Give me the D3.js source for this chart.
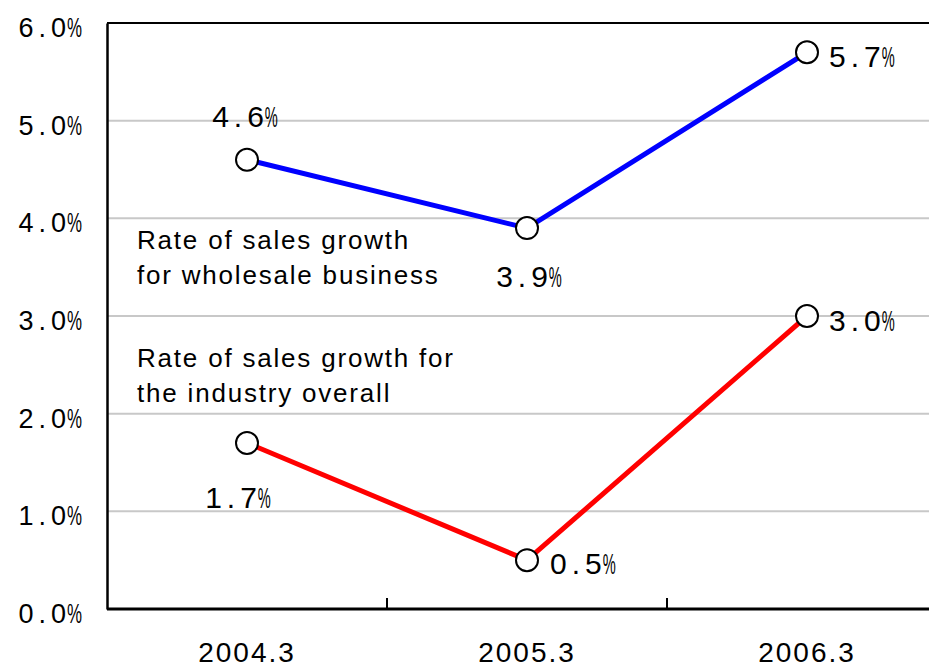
<!DOCTYPE html>
<html>
<head>
<meta charset="utf-8">
<script src="https://cdn.jsdelivr.net/npm/d3@7"></script>
<style>
  html, body { margin: 0; padding: 0; background: #fff; overflow: hidden; }
  svg { display: block; }
  text { font-family: "Liberation Sans", Arial, sans-serif; fill: #000; }
</style>
</head>
<body>
<svg id="chart" width="929" height="668"></svg>
<script>
// Fiscal periods on the x axis
const periods = ["2004.3", "2005.3", "2006.3"];
// Sales growth rates (%)
const wholesaleGrowth = [4.6, 3.9, 5.7];
const industryGrowth = [1.7, 0.5, 3.0];
// Y axis ticks (%)
const yTicks = [0, 1, 2, 3, 4, 5, 6];

const svg = d3.select("#chart");
const plotLeft = 107, plotRight = 947, plotTop = 23, plotBottom = 609;

const x = d3.scaleBand().domain(periods).range([plotLeft, plotRight]);
const y = d3.scaleLinear().domain([0, 6]).range([plotBottom, plotTop]);
const cx = p => x(p) + x.bandwidth() / 2;

// Percentage label: spaced digits followed by a condensed "%" sign, one text element
function pctLabel(parent, px, py, value, size, spacing, pctWidth, anchor) {
  const t = parent.append("text")
    .attr("x", px).attr("y", py)
    .attr("font-size", size)
    .attr("text-anchor", anchor);
  const s = value.toFixed(1);
  t.append("tspan").text(s.slice(0, -1)).attr("letter-spacing", spacing);
  t.append("tspan").text(s.slice(-1));
  t.append("tspan").text("%").attr("dx", 1)
    .attr("textLength", pctWidth).attr("lengthAdjust", "spacingAndGlyphs");
  return t;
}

// Horizontal gridlines
svg.append("g").selectAll("line")
  .data(yTicks.filter(t => t > 0 && t < 6))
  .join("line")
  .attr("x1", plotLeft).attr("x2", plotRight)
  .attr("y1", d => y(d)).attr("y2", d => y(d))
  .attr("stroke", "#c8c8c8").attr("stroke-width", 2);

// Top frame line at 6.0%
svg.append("line")
  .attr("x1", plotLeft).attr("x2", plotRight)
  .attr("y1", y(6)).attr("y2", y(6))
  .attr("stroke", "#000").attr("stroke-width", 2);

// Y axis line (labels drawn separately)
const yAxis = d3.axisLeft(y).tickValues(yTicks).tickSize(0).tickFormat("");
const gy = svg.append("g").attr("transform", `translate(${plotLeft},0)`).call(yAxis);
gy.select(".domain").attr("stroke", "#000").attr("stroke-width", 2.5);
const yLabels = svg.append("g");
yTicks.forEach(t => pctLabel(yLabels, 82, y(t) + 14, t, 27, 5, 15, "end"));

// X axis: baseline, inner ticks at band boundaries, category labels
svg.append("line")
  .attr("x1", plotLeft).attr("x2", plotRight)
  .attr("y1", plotBottom).attr("y2", plotBottom)
  .attr("stroke", "#000").attr("stroke-width", 3);
svg.append("g").selectAll("line")
  .data(periods.slice(1))
  .join("line")
  .attr("x1", d => x(d)).attr("x2", d => x(d))
  .attr("y1", plotBottom).attr("y2", plotBottom - 11)
  .attr("stroke", "#000").attr("stroke-width", 2);
svg.append("g").selectAll("text")
  .data(periods)
  .join("text")
  .attr("x", d => cx(d)).attr("y", 662)
  .attr("text-anchor", "middle")
  .attr("font-size", 28)
  .attr("letter-spacing", 2)
  .text(d => d);

// Series lines + markers
const series = [
  { values: wholesaleGrowth, color: "#0000ff" },
  { values: industryGrowth, color: "#ff0000" }
];
const line = d3.line().x(d => cx(d.p)).y(d => y(d.v));
series.forEach(s => {
  const pts = periods.map((p, i) => ({ p, v: s.values[i] }));
  svg.append("path").datum(pts)
    .attr("d", line)
    .attr("fill", "none").attr("stroke", s.color).attr("stroke-width", 5);
  svg.append("g").selectAll("circle")
    .data(pts).join("circle")
    .attr("cx", d => cx(d.p)).attr("cy", d => y(d.v)).attr("r", 11)
    .attr("fill", "#fff").attr("stroke", "#000").attr("stroke-width", 2);
});

// Value labels: [series values, index, dx, dy, anchor]
const valueLabels = [
  [wholesaleGrowth, 0, -2, -33, "middle"],
  [wholesaleGrowth, 1, 2, 59, "middle"],
  [wholesaleGrowth, 2, 22, 15, "start"],
  [industryGrowth, 0, -9, 65, "middle"],
  [industryGrowth, 1, 23, 14, "start"],
  [industryGrowth, 2, 22, 15, "start"]
];
const vLabels = svg.append("g");
valueLabels.forEach(d => {
  const v = d[0][d[1]];
  pctLabel(vLabels, cx(periods[d[1]]) + d[2], y(v) + d[3], v, 30, 5, 13, d[4]);
});

// Series captions
const captions = [
  { lines: ["Rate of sales growth", "for wholesale business"], x: 137, y: 249 },
  { lines: ["Rate of sales growth for", "the industry overall"], x: 137, y: 367 }
];
captions.forEach(c => {
  const t = svg.append("text").attr("font-size", 26).attr("letter-spacing", 1.8);
  c.lines.forEach((l, i) => {
    t.append("tspan").attr("x", c.x).attr("y", c.y + i * 35).text(l);
  });
});
</script>
</body>
</html>
